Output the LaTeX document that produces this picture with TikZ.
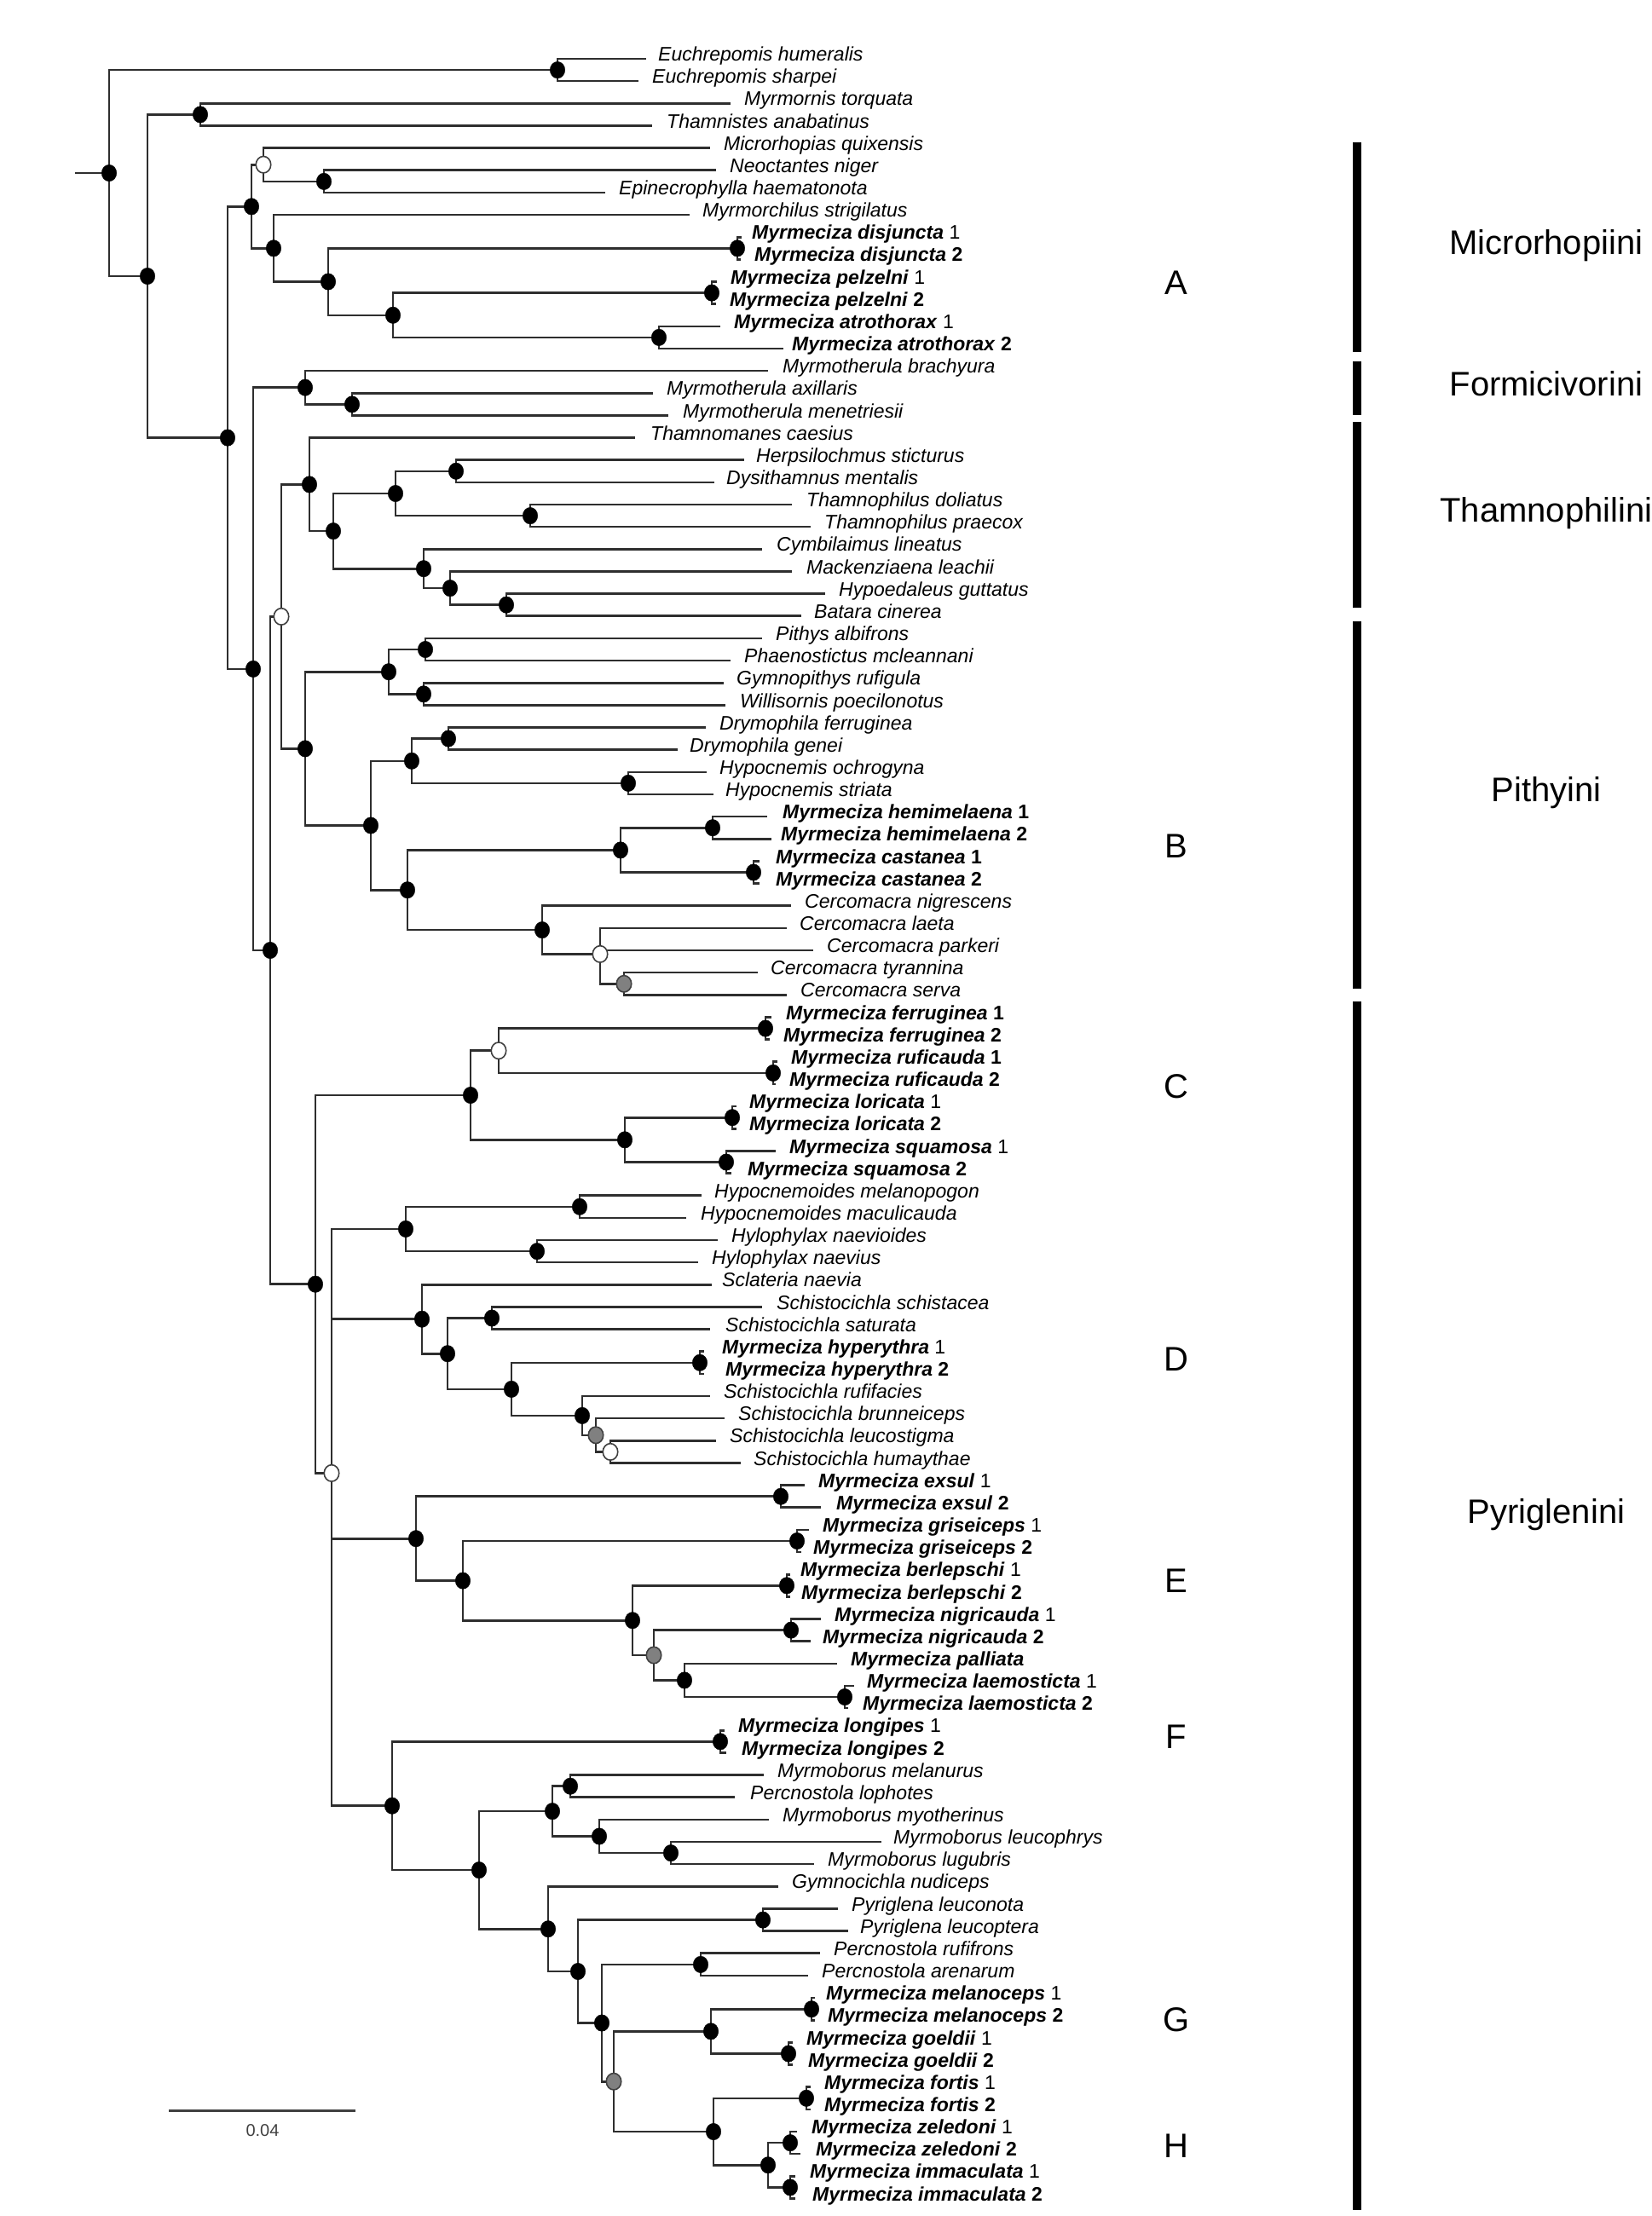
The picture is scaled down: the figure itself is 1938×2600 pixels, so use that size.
\documentclass[tikz,border=0pt]{standalone}
\usepackage{fontspec}
\usetikzlibrary{shapes.geometric}
\setmainfont{Liberation Sans}
\newcommand\mzA[2]{\textbf{\textit{Myrmeciza #1}}\ #2}
\newcommand\mzB[2]{\textbf{\textit{Myrmeciza #1}\ #2}}
\begin{document}
\begin{tikzpicture}[x=1pt,y=-1pt,
  br/.style={line width=2.6pt, draw=black!82},
  bdot/.style={ellipse, fill=black, draw=black, inner sep=0pt, minimum width=17.5pt, minimum height=19.5pt},
  odot/.style={ellipse, fill=white, draw=black!75, line width=1.6pt, inner sep=0pt, minimum width=17.5pt, minimum height=19.5pt},
  gdot/.style={ellipse, fill=black!50, draw=black!75, line width=1.6pt, inner sep=0pt, minimum width=17.5pt, minimum height=19.5pt},
  lab/.style={anchor=mid west, inner sep=0pt, font=\fontsize{23}{26}\selectfont\itshape},
  mlab/.style={anchor=mid west, inner sep=0pt, font=\fontsize{23}{26}\selectfont},
  big/.style={anchor=center, inner sep=0pt, font=\fontsize{40}{44}\selectfont},
  tribebar/.style={line width=9.5pt, draw=black}]
\useasboundingbox (0,0) rectangle (1938,2600);
\newcommand\leaf[4]{\coordinate (t#1) at (#2,{42.85+26.15*#1});
  \node[lab] (L#1) at (#3,{42.85+26.15*#1}) {#4};}
\newcommand\mleaf[4]{\coordinate (t#1) at (#2,{42.85+26.15*#1});
  \node[mlab] (L#1) at (#3,{42.85+26.15*#1}) {#4};}
% ---- leaves
\leaf{1}{758}{772}{Euchrepomis humeralis}
\leaf{2}{749}{765}{Euchrepomis sharpei}
\leaf{3}{857}{873}{Myrmornis torquata}
\leaf{4}{765}{782}{Thamnistes anabatinus}
\leaf{5}{833}{849}{Microrhopias quixensis}
\leaf{6}{840}{856}{Neoctantes niger}
\leaf{7}{710}{726}{Epinecrophylla haematonota}
\leaf{8}{809}{824}{Myrmorchilus strigilatus}
\mleaf{9}{870}{882}{\mzA{disjuncta}{1}}
\mleaf{10}{869}{885}{\mzB{disjuncta}{2}}
\mleaf{11}{841}{857}{\mzA{pelzelni}{1}}
\mleaf{12}{840}{856}{\mzB{pelzelni}{2}}
\mleaf{13}{845}{861}{\mzA{atrothorax}{1}}
\mleaf{14}{919}{929}{\mzB{atrothorax}{2}}
\leaf{15}{901}{918}{Myrmotherula brachyura}
\leaf{16}{766}{782}{Myrmotherula axillaris}
\leaf{17}{784}{801}{Myrmotherula menetriesii}
\leaf{18}{745}{763}{Thamnomanes caesius}
\leaf{19}{873}{887}{Herpsilochmus sticturus}
\leaf{20}{838}{852}{Dysithamnus mentalis}
\leaf{21}{929}{946}{Thamnophilus doliatus}
\leaf{22}{951}{967}{Thamnophilus praecox}
\leaf{23}{894}{911}{Cymbilaimus lineatus}
\leaf{24}{929}{946}{Mackenziaena leachii}
\leaf{25}{968}{984}{Hypoedaleus guttatus}
\leaf{26}{940}{955}{Batara cinerea}
\leaf{27}{894}{910}{Pithys albifrons}
\leaf{28}{857}{873}{Phaenostictus mcleannani}
\leaf{29}{849}{864}{Gymnopithys rufigula}
\leaf{30}{851}{868}{Willisornis poecilonotus}
\leaf{31}{828}{844}{Drymophila ferruginea}
\leaf{32}{795}{809}{Drymophila genei}
\leaf{33}{829}{844}{Hypocnemis ochrogyna}
\leaf{34}{837}{851}{Hypocnemis striata}
\mleaf{35}{900}{918}{\mzB{hemimelaena}{1}}
\mleaf{36}{905}{916}{\mzB{hemimelaena}{2}}
\mleaf{37}{891}{910}{\mzB{castanea}{1}}
\mleaf{38}{891}{910}{\mzB{castanea}{2}}
\leaf{39}{928}{944}{Cercomacra nigrescens}
\leaf{40}{923}{938}{Cercomacra laeta}
\leaf{41}{954}{970}{Cercomacra parkeri}
\leaf{42}{889}{904}{Cercomacra tyrannina}
\leaf{43}{923}{939}{Cercomacra serva}
\mleaf{44}{905}{922}{\mzB{ferruginea}{1}}
\mleaf{45}{903}{919}{\mzB{ferruginea}{2}}
\mleaf{46}{912}{928}{\mzB{ruficauda}{1}}
\mleaf{47}{910}{926}{\mzB{ruficauda}{2}}
\mleaf{48}{864}{879}{\mzA{loricata}{1}}
\mleaf{49}{864}{879}{\mzB{loricata}{2}}
\mleaf{50}{910}{926}{\mzA{squamosa}{1}}
\mleaf{51}{858}{877}{\mzB{squamosa}{2}}
\leaf{52}{823}{838}{Hypocnemoides melanopogon}
\leaf{53}{805}{822}{Hypocnemoides maculicauda}
\leaf{54}{842}{858}{Hylophylax naevioides}
\leaf{55}{819}{835}{Hylophylax naevius}
\leaf{56}{835}{847}{Sclateria naevia}
\leaf{57}{894}{911}{Schistocichla schistacea}
\leaf{58}{833}{851}{Schistocichla saturata}
\mleaf{59}{826}{847}{\mzA{hyperythra}{1}}
\mleaf{60}{826}{851}{\mzB{hyperythra}{2}}
\leaf{61}{833}{849}{Schistocichla rufifacies}
\leaf{62}{850}{866}{Schistocichla brunneiceps}
\leaf{63}{840}{856}{Schistocichla leucostigma}
\leaf{64}{869}{884}{Schistocichla humaythae}
\mleaf{65}{944}{960}{\mzA{exsul}{1}}
\mleaf{66}{963}{981}{\mzB{exsul}{2}}
\mleaf{67}{949}{965}{\mzA{griseiceps}{1}}
\mleaf{68}{940}{954}{\mzB{griseiceps}{2}}
\mleaf{69}{927}{939}{\mzA{berlepschi}{1}}
\mleaf{70}{927}{940}{\mzB{berlepschi}{2}}
\mleaf{71}{963}{979}{\mzA{nigricauda}{1}}
\mleaf{72}{951}{965}{\mzB{nigricauda}{2}}
\mleaf{73}{982}{998}{\textbf{\textit{Myrmeciza palliata}}}
\mleaf{74}{1002}{1017}{\mzA{laemosticta}{1}}
\mleaf{75}{995}{1012}{\mzB{laemosticta}{2}}
\mleaf{76}{850}{866}{\mzA{longipes}{1}}
\mleaf{77}{852}{870}{\mzB{longipes}{2}}
\leaf{78}{896}{912}{Myrmoborus melanurus}
\leaf{79}{862}{880}{Percnostola lophotes}
\leaf{80}{902}{918}{Myrmoborus myotherinus}
\leaf{81}{1034}{1048}{Myrmoborus leucophrys}
\leaf{82}{955}{971}{Myrmoborus lugubris}
\leaf{83}{913}{929}{Gymnocichla nudiceps}
\leaf{84}{983}{999}{Pyriglena leuconota}
\leaf{85}{995}{1009}{Pyriglena leucoptera}
\leaf{86}{962}{978}{Percnostola rufifrons}
\leaf{87}{948}{964}{Percnostola arenarum}
\mleaf{88}{956}{969}{\mzA{melanoceps}{1}}
\mleaf{89}{956}{971}{\mzB{melanoceps}{2}}
\mleaf{90}{930}{946}{\mzA{goeldii}{1}}
\mleaf{91}{930}{948}{\mzB{goeldii}{2}}
\mleaf{92}{951}{967}{\mzA{fortis}{1}}
\mleaf{93}{951}{967}{\mzB{fortis}{2}}
\mleaf{94}{935}{952}{\mzA{zeledoni}{1}}
\mleaf{95}{939}{957}{\mzB{zeledoni}{2}}
\mleaf{96}{933}{950}{\mzA{immaculata}{1}}
\mleaf{97}{933}{953}{\mzB{immaculata}{2}}
% ---- internal nodes
\coordinate (stub) at (88,203);
\coordinate (R) at (128,203);
\coordinate (nE) at (654,82.1);
\coordinate (n2) at (173,324);
\coordinate (nMT) at (235,134.4);
\coordinate (n3) at (267,513.6);
\coordinate (nA0) at (295,242.3);
\coordinate (nO1) at (309,193.2);
\coordinate (nNE) at (380,212.9);
\coordinate (nA1) at (321,291.3);
\coordinate (nA2) at (385,330.5);
\coordinate (nDis) at (865,291.3);
\coordinate (nA3) at (461,369.8);
\coordinate (nPel) at (835,343.6);
\coordinate (nAtr) at (773,395.9);
\coordinate (n4) at (297,784.9);
\coordinate (nFo) at (358,454.7);
\coordinate (nAx) at (413,474.4);
\coordinate (n5) at (317,1115);
\coordinate (nO2) at (330,723.4);
\coordinate (nTh) at (363,568.4);
\coordinate (nT1) at (391,623.1);
\coordinate (nT2) at (464,579.0);
\coordinate (nHD) at (535,552.8);
\coordinate (nTP) at (622,605.1);
\coordinate (nT3) at (497,667.2);
\coordinate (nT4) at (528,690.1);
\coordinate (nHB) at (594,709.7);
\coordinate (nPi) at (358,878.4);
\coordinate (nP1) at (456,788.2);
\coordinate (nPP) at (499,762.0);
\coordinate (nGW) at (497,814.3);
\coordinate (nP2) at (435,968.5);
\coordinate (nP3) at (483,892.8);
\coordinate (nDr) at (526,866.6);
\coordinate (nHy) at (737,918.9);
\coordinate (nP4) at (478,1044.2);
\coordinate (nP5) at (728,997.4);
\coordinate (nHem) at (836,971.2);
\coordinate (nCas) at (884,1023.5);
\coordinate (nP6) at (636,1091.1);
\coordinate (nO3) at (704,1119.4);
\coordinate (nGr1) at (732,1154.3);
\coordinate (n6) at (370,1506.7);
\coordinate (nC) at (552,1285);
\coordinate (nO5) at (585,1232.7);
\coordinate (nFe) at (898,1206.6);
\coordinate (nRu) at (907,1258.9);
\coordinate (nC2) at (733,1337.3);
\coordinate (nLo) at (859,1311.2);
\coordinate (nSq) at (852,1363.5);
\coordinate (nO4) at (389,1728.4);
\coordinate (nD1) at (476,1441.9);
\coordinate (nHm) at (680,1415.8);
\coordinate (nHl) at (630,1468.1);
\coordinate (nD2) at (495,1547.7);
\coordinate (nD3) at (525,1588.2);
\coordinate (nSs) at (577,1546.5);
\coordinate (nD4) at (600,1629.9);
\coordinate (nHyp) at (821,1598.8);
\coordinate (nD5) at (683,1660.9);
\coordinate (nGr2) at (699,1683.8);
\coordinate (nO6) at (716,1703.4);
\coordinate (nE1) at (488,1805.2);
\coordinate (nEx) at (916,1755.7);
\coordinate (nE2) at (543,1854.6);
\coordinate (nGs) at (935,1808);
\coordinate (nE3) at (742,1901.2);
\coordinate (nBe) at (923,1860.3);
\coordinate (nGr3) at (767,1942);
\coordinate (nNi) at (928,1912.6);
\coordinate (nE4) at (803,1971.4);
\coordinate (nLa) at (991,1991.0);
\coordinate (nF1) at (460,2118.7);
\coordinate (nLg) at (845,2043.3);
\coordinate (nF2) at (562,2194.1);
\coordinate (nF3) at (648,2125.1);
\coordinate (nMP) at (669,2095.7);
\coordinate (nF5) at (703,2154.5);
\coordinate (nLL) at (787,2174.1);
\coordinate (nF4) at (643,2263.2);
\coordinate (nG1) at (678,2313);
\coordinate (nPy) at (895,2252.6);
\coordinate (nG2) at (706,2373.5);
\coordinate (nPc) at (822,2304.9);
\coordinate (nGr4) at (720,2442.2);
\coordinate (nG3) at (834,2383.3);
\coordinate (nMel) at (952,2357.2);
\coordinate (nGo) at (925,2409.5);
\coordinate (nH1) at (837,2501);
\coordinate (nFt) at (946,2461.8);
\coordinate (nH2) at (901,2540.2);
\coordinate (nZe) at (927,2514.1);
\coordinate (nIm) at (927,2566.4);
% ---- branches
\draw[br] (stub) -- (R);
\foreach \p/\c in {R/nE, R/n2, nE/t1, nE/t2, n2/nMT, n2/n3, nMT/t3, nMT/t4,
  n3/nA0, n3/n4, nA0/nO1, nA0/nA1, nO1/t5, nO1/nNE, nNE/t6, nNE/t7, nA1/t8,
  nA1/nA2, nA2/nDis, nA2/nA3, nDis/t9, nDis/t10, nA3/nPel, nA3/nAtr,
  nPel/t11, nPel/t12, nAtr/t13, nAtr/t14,
  n4/nFo, n4/n5, nFo/t15, nFo/nAx, nAx/t16, nAx/t17,
  n5/nO2, n5/n6, nO2/nTh, nO2/nPi, nTh/t18, nTh/nT1, nT1/nT2, nT1/nT3,
  nT2/nHD, nT2/nTP, nHD/t19, nHD/t20, nTP/t21, nTP/t22, nT3/t23, nT3/nT4,
  nT4/t24, nT4/nHB, nHB/t25, nHB/t26,
  nPi/nP1, nPi/nP2, nP1/nPP, nP1/nGW, nPP/t27, nPP/t28, nGW/t29, nGW/t30,
  nP2/nP3, nP2/nP4, nP3/nDr, nP3/nHy, nDr/t31, nDr/t32, nHy/t33, nHy/t34,
  nP4/nP5, nP4/nP6, nP5/nHem, nP5/nCas, nHem/t35, nHem/t36, nCas/t37, nCas/t38,
  nP6/t39, nP6/nO3, nO3/t40, nO3/t41, nO3/nGr1, nGr1/t42, nGr1/t43,
  n6/nC, n6/nO4, nC/nO5, nC/nC2, nO5/nFe, nO5/nRu, nFe/t44, nFe/t45,
  nRu/t46, nRu/t47, nC2/nLo, nC2/nSq, nLo/t48, nLo/t49, nSq/t50, nSq/t51,
  nO4/nD1, nO4/nD2, nO4/nE1, nO4/nF1, nD1/nHm, nD1/nHl, nHm/t52, nHm/t53,
  nHl/t54, nHl/t55, nD2/t56, nD2/nD3, nD3/nSs, nD3/nD4, nSs/t57, nSs/t58,
  nD4/nHyp, nD4/nD5, nHyp/t59, nHyp/t60, nD5/t61, nD5/nGr2, nGr2/t62,
  nGr2/nO6, nO6/t63, nO6/t64,
  nE1/nEx, nE1/nE2, nEx/t65, nEx/t66, nE2/nGs, nE2/nE3, nGs/t67, nGs/t68,
  nE3/nBe, nE3/nGr3, nBe/t69, nBe/t70, nGr3/nNi, nGr3/nE4, nNi/t71, nNi/t72,
  nE4/t73, nE4/nLa, nLa/t74, nLa/t75,
  nF1/nLg, nF1/nF2, nLg/t76, nLg/t77, nF2/nF3, nF2/nF4, nF3/nMP, nF3/nF5,
  nMP/t78, nMP/t79, nF5/t80, nF5/nLL, nLL/t81, nLL/t82, nF4/t83, nF4/nG1,
  nG1/nPy, nG1/nG2, nPy/t84, nPy/t85, nG2/nPc, nG2/nGr4, nPc/t86, nPc/t87,
  nGr4/nG3, nGr4/nH1, nG3/nMel, nG3/nGo, nMel/t88, nMel/t89, nGo/t90, nGo/t91,
  nH1/nFt, nH1/nH2, nFt/t92, nFt/t93, nH2/nZe, nH2/nIm, nZe/t94, nZe/t95,
  nIm/t96, nIm/t97}
  \draw[br] (\p) |- (\c);
% ---- node markers
\foreach \n in {R, nE, n2, nMT, n3, nA0, nNE, nA1, nA2, nDis, nA3, nPel, nAtr,
  n4, nFo, nAx, n5, nTh, nT1, nT2, nHD, nTP, nT3, nT4, nHB, nPi, nP1, nPP,
  nGW, nP2, nP3, nDr, nHy, nP4, nP5, nHem, nCas, nP6, n6, nC, nFe, nRu, nC2,
  nLo, nSq, nD1, nHm, nHl, nD2, nD3, nSs, nD4, nHyp, nD5, nE1, nEx, nE2, nGs,
  nE3, nBe, nNi, nE4, nLa, nF1, nLg, nF2, nF3, nMP, nF5, nLL, nF4, nG1, nPy,
  nG2, nPc, nG3, nMel, nGo, nH1, nFt, nH2, nZe, nIm}
  \node[bdot] (d\n) at (\n) {};
\foreach \n in {nO1, nO2, nO3, nO4, nO5, nO6}
  \node[odot] (d\n) at (\n) {};
\foreach \n in {nGr1, nGr2, nGr3, nGr4}
  \node[gdot] (d\n) at (\n) {};
% ---- scale bar
\coordinate (sbA) at (198,2476);
\coordinate (sbB) at (417,2476);
\draw[line width=3pt, draw=black!75] (sbA) -- (sbB);
\node[anchor=center, inner sep=0pt, font=\fontsize{20}{22}\selectfont, text=black!75] (sbl) at (308,2500) {0.04};
% ---- tribe bars
\draw[tribebar] (1592,167) -- (1592,413);
\draw[tribebar] (1592,424) -- (1592,487);
\draw[tribebar] (1592,495) -- (1592,713);
\draw[tribebar] (1592,729) -- (1592,1160);
\draw[tribebar] (1592,1175) -- (1592,2593);
\node[big] (tr1) at (1814,288) {Microrhopiini};
\node[big] (tr2) at (1814,450) {Formicivorini};
\node[big] (tr3) at (1814,602) {Thamnophilini};
\node[big] (tr4) at (1814,930) {Pithyini};
\node[big] (tr5) at (1814,1777) {Pyriglenini};
% ---- clade letters
\node[big] (cA) at (1380,332) {A};
\node[big] (cB) at (1380,993) {B};
\node[big] (cC) at (1380,1275) {C};
\node[big] (cD) at (1380,1595) {D};
\node[big] (cE) at (1380,1855) {E};
\node[big] (cF) at (1380,2038) {F};
\node[big] (cG) at (1380,2370) {G};
\node[big] (cH) at (1380,2518) {H};
\end{tikzpicture}
\end{document}
